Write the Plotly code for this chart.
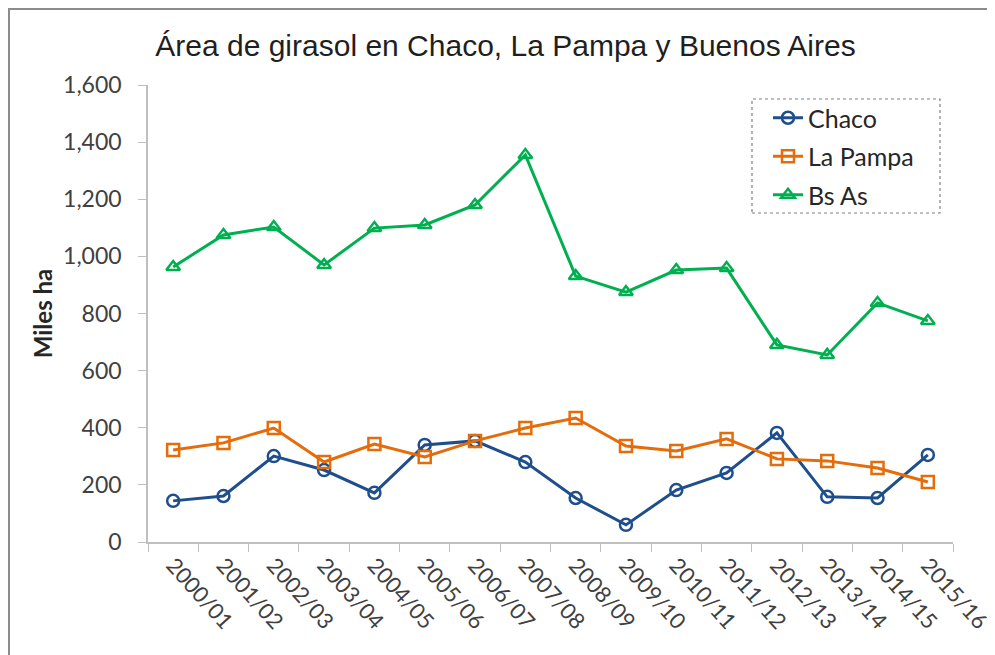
import plotly.graph_objects as go

campaigns = ["2000/01", "2001/02", "2002/03", "2003/04", "2004/05", "2005/06", "2006/07", "2007/08",
             "2008/09", "2009/10", "2010/11", "2011/12", "2012/13", "2013/14", "2014/15", "2015/16"]
chaco = [144, 161, 301, 252, 172, 340, 354, 280, 154, 60, 182, 242, 382, 158, 154, 305]
la_pampa = [322, 347, 399, 280, 343, 298, 354, 399, 434, 336, 319, 361, 291, 284, 259, 210]
bs_as = [963, 1075, 1103, 970, 1099, 1110, 1180, 1355, 931, 875, 952, 959, 690, 655, 837, 774]

y_ticks = [0, 200, 400, 600, 800, 1000, 1200, 1400, 1600]

FONT = "Lato, 'Open Sans', sans-serif"
TITLE_FONT = "'Liberation Sans', sans-serif"

series = [
    ("Chaco", chaco, "#1F4E8C", "circle-open"),
    ("La Pampa", la_pampa, "#E46C0A", "square-open"),
    ("Bs As", bs_as, "#00B050", "triangle-up-open"),
]

fig = go.Figure()
for name, vals, color, sym in series:
    fig.add_trace(go.Scatter(
        x=campaigns, y=vals, name=name, legendgroup=name,
        mode="lines+markers",
        line=dict(color=color, width=3),
        marker=dict(symbol=sym, size=12, color=color, line=dict(color=color, width=2.5)),
    ))

# the page places the figure 8px from the top-left corner
OFF = 8
W, H = 995, 655
L = 148 - OFF
T = 85 - OFF
R = W - (953 - OFF)
B = H - (542 - OFF)
pw, ph = W - L - R, H - T - B


def px(xp):
    return (xp - OFF - L) / pw


def py(yp):
    return (H - B - (yp - OFF)) / ph


fig.update_layout(
    width=W, height=H,
    margin=dict(l=L, r=R, t=T, b=B, autoexpand=False),
    paper_bgcolor="white", plot_bgcolor="white",
    font=dict(family=FONT, size=21, color="#404040"),
    title=dict(text="Área de girasol en Chaco, La Pampa y Buenos Aires",
               x=0.5, xanchor="center", y=1 - (45 - OFF) / H, yanchor="middle",
               font=dict(family=TITLE_FONT, size=30, color="#1F1F1F")),
    showlegend=True,
    legend=dict(x=px(768), y=py(95), xanchor="left", yanchor="top",
                bgcolor="rgba(0,0,0,0)", borderwidth=0,
                font=dict(family=FONT, size=25, color="#262626"),
                tracegroupgap=3),
    xaxis=dict(type="category", range=[-0.5, len(campaigns) - 0.5],
               showline=True, linecolor="#BFBFBF", linewidth=1.5,
               ticks="outside", tickson="boundaries", ticklen=8, tickcolor="#BFBFBF",
               tickangle=48, showgrid=False, zeroline=False,
               tickfont=dict(family=FONT, size=22, color="#404040")),
    yaxis=dict(range=[0, 1600], tickvals=y_ticks, tickformat=",", showline=True,
               linecolor="#BFBFBF", linewidth=1.5, ticks="outside", ticklen=8,
               tickcolor="#BFBFBF", showgrid=False, zeroline=False,
               ticklabelstandoff=12,
               tickfont=dict(family=FONT, size=23, color="#404040"),
               title=dict(text="<b>Miles ha</b>", standoff=4,
                          font=dict(family=FONT, size=24, color="#262626"))),
    shapes=[
        dict(type="rect", xref="paper", yref="paper",
             x0=px(752), x1=px(940), y0=py(213), y1=py(99),
             line=dict(color="#808080", width=1.2, dash="dot")),
        dict(type="rect", xref="paper", yref="paper",
             x0=px(OFF + 1), x1=px(1100), y0=py(800), y1=py(OFF + 1),
             line=dict(color="#8C8C8C", width=2)),
    ],
)

fig.write_html("out.html")
